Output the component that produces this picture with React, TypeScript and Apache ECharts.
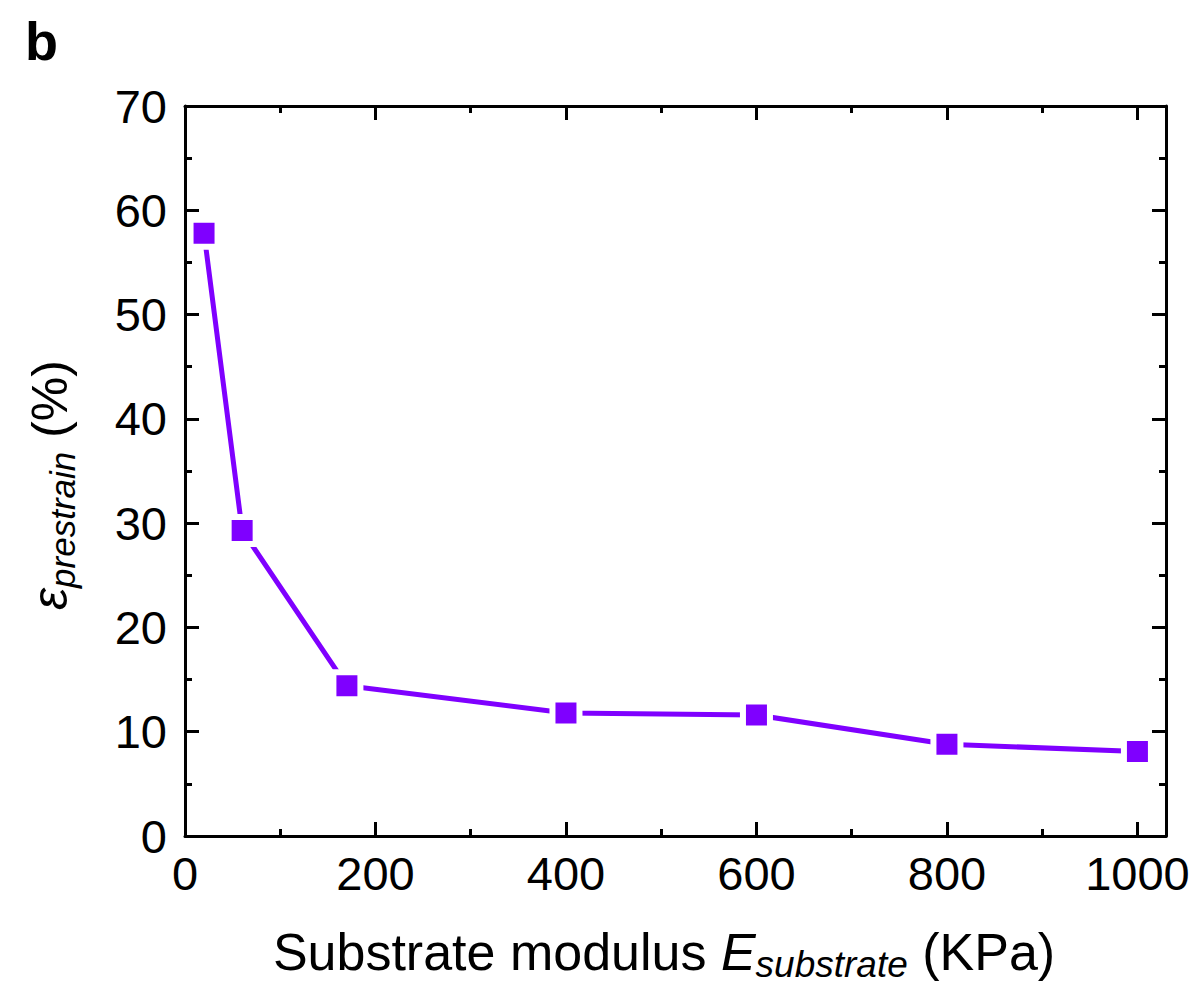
import React, { useEffect, useRef } from 'react';
import * as echarts from 'echarts';

const xValues = [20, 60, 170, 400, 600, 800, 1000];
const yValues = [57.8, 29.3, 14.4, 11.8, 11.6, 8.8, 8.1];
const xMajorTicks = [0, 200, 400, 600, 800, 1000];
const xMinorTicks = [100, 300, 500, 700, 900];
const xMin = 0;
const xMax = 1030;
const yMin = 0;
const yMax = 70;
const yInterval = 10;
const panelLabel = 'b';

const FONT = "'Liberation Sans', Arial, sans-serif";
const PURPLE = '#7f00ff';

function xAxisDef(position: 'top' | 'bottom', values: number[], len: number, withLine: boolean, withLabels: boolean) {
  return {
    type: 'value',
    position,
    min: xMin,
    max: xMax,
    splitLine: { show: false },
    axisLine: { show: withLine, onZero: false, lineStyle: { color: '#000', width: 3 } },
    axisTick: { show: true, inside: true, length: len, customValues: values, lineStyle: { color: '#000', width: 3 } },
    minorTick: { show: false },
    axisLabel: withLabels
      ? {
          show: true,
          customValues: values,
          margin: 14,
          fontSize: 47,
          color: '#000',
          fontFamily: FONT,
          formatter: (v: number) => String(v),
        }
      : { show: false },
  };
}

function yAxisDef(position: 'left' | 'right', withLabels: boolean) {
  return {
    type: 'value',
    position,
    min: yMin,
    max: yMax,
    interval: yInterval,
    splitLine: { show: false },
    axisLine: { show: true, onZero: false, lineStyle: { color: '#000', width: 3 } },
    axisTick: { show: true, inside: true, length: 14, lineStyle: { color: '#000', width: 3 } },
    minorTick: { show: true, splitNumber: 2, length: 7, lineStyle: { color: '#000', width: 3 } },
    axisLabel: withLabels
      ? { show: true, margin: 18, fontSize: 47, color: '#000', fontFamily: FONT, formatter: (v: number) => String(v) }
      : { show: false },
  };
}

export default function App() {
  const ref = useRef<HTMLDivElement>(null);
  useEffect(() => {
    document.body.style.margin = '0';
    if (!ref.current) return;
    const chart = echarts.init(ref.current, null, { renderer: 'svg' });
    const data = xValues.map((x, i) => [x, yValues[i]]);
    chart.setOption({
      animation: false,
      backgroundColor: '#fff',
      grid: { left: 185, right: 34, top: 106, bottom: 160, containLabel: false },
      xAxis: [
        xAxisDef('bottom', xMajorTicks, 14, true, true),
        xAxisDef('bottom', xMinorTicks, 7, false, false),
        xAxisDef('top', xMajorTicks, 14, true, false),
        xAxisDef('top', xMinorTicks, 7, false, false),
      ],
      yAxis: [yAxisDef('left', true), yAxisDef('right', false)],
      series: [
        {
          type: 'line',
          xAxisIndex: 0,
          yAxisIndex: 0,
          data,
          symbol: 'rect',
          symbolSize: 27,
          lineStyle: { color: PURPLE, width: 5 },
          itemStyle: { color: PURPLE, borderColor: '#fff', borderWidth: 6 },
          clip: false,
          z: 3,
        },
      ],
      graphic: [
        {
          type: 'text',
          left: 25,
          top: 14,
          style: { text: panelLabel, font: `bold 54px ${FONT}`, fill: '#000' },
        },
        {
          type: 'text',
          x: 664,
          y: 952,
          style: {
            text: '{n|Substrate modulus }{i|E}{s|substrate}{n| (KPa)}',
            align: 'center',
            verticalAlign: 'middle',
            rich: {
              n: { fontSize: 52, fontFamily: FONT, lineHeight: 62, fill: '#000' },
              i: { fontSize: 52, fontFamily: FONT, fontStyle: 'italic', lineHeight: 62, fill: '#000' },
              s: { fontSize: 37, fontFamily: FONT, fontStyle: 'italic', lineHeight: 38, verticalAlign: 'bottom', fill: '#000' },
            },
          },
        },
        {
          type: 'text',
          x: 50,
          y: 485,
          rotation: Math.PI / 2,
          style: {
            text: '{i|ε}{s|prestrain}{n| (%)}',
            align: 'center',
            verticalAlign: 'middle',
            rich: {
              n: { fontSize: 50, fontFamily: FONT, lineHeight: 60, fill: '#000' },
              i: { fontSize: 50, fontFamily: FONT, fontStyle: 'italic', lineHeight: 60, fill: '#000' },
              s: { fontSize: 35, fontFamily: FONT, fontStyle: 'italic', lineHeight: 36, verticalAlign: 'bottom', fill: '#000' },
            },
          },
        },
      ],
    });
    return () => chart.dispose();
  }, []);
  return <div ref={ref} style={{ width: 1200, height: 996 }} />;
}
